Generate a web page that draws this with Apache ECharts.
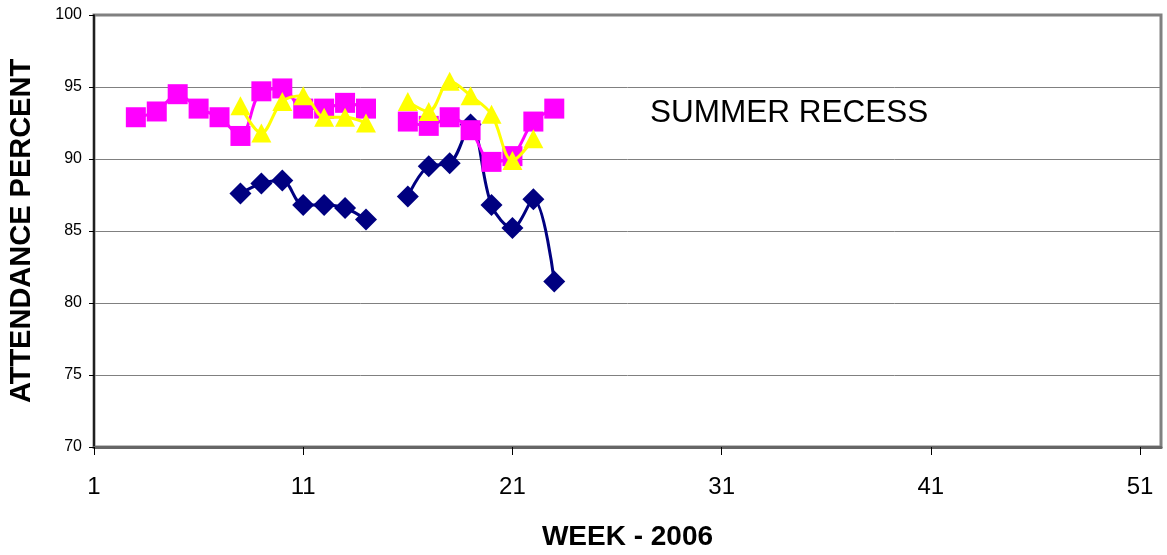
<!DOCTYPE html>
<html>
<head>
<meta charset="utf-8">
<script src="https://cdn.jsdelivr.net/npm/echarts@6/dist/echarts.min.js"></script>
<style>
  html, body { margin: 0; padding: 0; background: #fff; }
  #main { width: 1167px; height: 555px; }
</style>
</head>
<body>
<div id="main"></div>
<script>
// weeks that have data (week 15 is a gap)
const weeks = [3, 4, 5, 6, 7, 8, 9, 10, 11, 12, 13, 14, 15, 16, 17, 18, 19, 20, 21, 22, 23];

const navyVals = [null, null, null, null, null, 87.6, 88.3, 88.5, 86.8, 86.8, 86.6, 85.8, null,
  87.4, 89.5, 89.7, 92.4, 86.8, 85.2, 87.2, 81.5];
const pinkVals = [92.9, 93.3, 94.5, 93.5, 92.9, 91.6, 94.7, 94.9, 93.5, 93.5, 93.9, 93.5, null,
  92.6, 92.3, 92.9, 92.0, 89.8, 90.2, 92.6, 93.5];
const yellowVals = [null, null, null, null, null, 93.7, 91.8, 94.0, 94.4, 92.9, 92.9, 92.5, null,
  94.0, 93.3, 95.4, 94.4, 93.1, 89.9, 91.4, null];

const xTicks = [1, 11, 21, 31, 41, 51];
const noteText = "SUMMER RECESS";

const toPairs = (vals) => weeks.map((w, i) => [w, vals[i]]);

const sans = '"Liberation Sans", Arial, sans-serif';

const chart = echarts.init(document.getElementById("main"));

const options = {
  animation: false,
  grid: {
    left: 94,
    right: 6,
    top: 15,
    bottom: 108,
    outerBoundsMode: "none",
    containLabel: false,
    show: true,
    borderColor: "#808080",
    borderWidth: 3,
  },
  xAxis: {
    type: "value",
    min: 1,
    max: 52,
    name: "WEEK - 2006",
    nameLocation: "middle",
    nameGap: 76,
    nameTextStyle: {
      color: "#000",
      fontFamily: sans,
      fontWeight: "bold",
      fontSize: 28,
    },
    axisLine: { lineStyle: { color: "#666", width: 3 } },
    axisTick: {
      customValues: xTicks,
      length: 8,
      lineStyle: { color: "#000", width: 1 },
    },
    axisLabel: {
      customValues: xTicks,
      color: "#000",
      fontFamily: sans,
      fontSize: 24,
      margin: 28,
    },
    splitLine: { show: false },
  },
  yAxis: {
    type: "value",
    min: 70,
    max: 100,
    interval: 5,
    name: "ATTENDANCE PERCENT",
    nameLocation: "middle",
    nameGap: 58,
    nameTextStyle: {
      color: "#000",
      fontFamily: sans,
      fontWeight: "bold",
      fontSize: 29,
    },
    axisLine: { show: true, lineStyle: { color: "#000", width: 1.5 } },
    axisTick: { show: true, length: 5, lineStyle: { color: "#000" } },
    axisLabel: {
      color: "#000",
      fontFamily: sans,
      fontSize: 16,
      margin: 12,
    },
    splitLine: { lineStyle: { color: "#808080", width: 1 } },
  },
  graphic: [
    {
      type: "text",
      x: 650,
      y: 113,
      style: {
        text: noteText,
        fill: "#000",
        font: "31.5px " + sans,
        textVerticalAlign: "middle",
      },
    },
  ],
  series: [
    {
      name: "navy",
      type: "line",
      data: toPairs(navyVals),
      smooth: 0.35,
      symbol: "diamond",
      symbolSize: 22,
      lineStyle: { color: "#000080", width: 3 },
      itemStyle: { color: "#000080" },
      z: 2,
    },
    {
      name: "pink",
      type: "line",
      data: toPairs(pinkVals),
      smooth: 0.35,
      symbol: "rect",
      symbolSize: 20,
      lineStyle: { color: "#FF00FF", width: 3 },
      itemStyle: { color: "#FF00FF" },
      z: 3,
    },
    {
      name: "yellow",
      type: "line",
      data: toPairs(yellowVals),
      smooth: 0.35,
      symbol: "triangle",
      symbolSize: [20, 19],
      lineStyle: { color: "#FFFF00", width: 3 },
      itemStyle: { color: "#FFFF00" },
      z: 4,
    },
  ],
};

chart.setOption(options);
</script>
</body>
</html>
